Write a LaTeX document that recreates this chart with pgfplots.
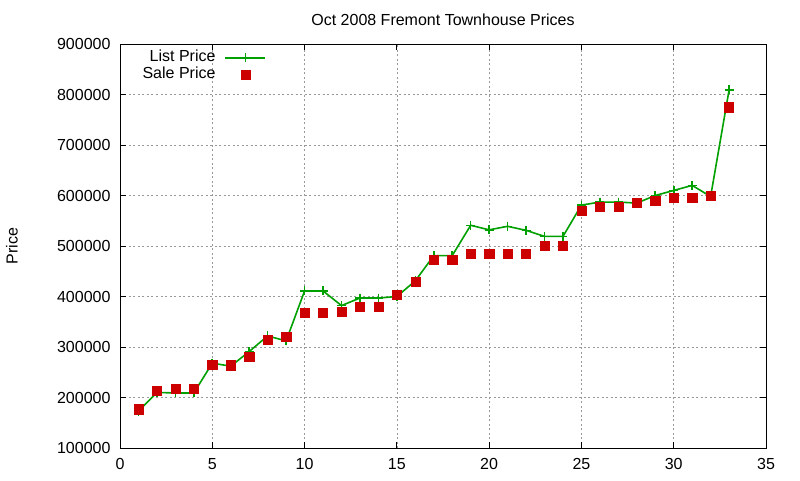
\documentclass[border=0pt]{standalone}
\usepackage{pgfplots}
\pgfplotsset{compat=1.18}
\usepackage{fontspec}
\setmainfont{Liberation Sans}
\definecolor{lgreen}{RGB}{0,160,0}
\definecolor{sred}{RGB}{205,0,0}
\begin{document}
\fontsize{16pt}{18pt}\selectfont
\begin{tikzpicture}[x=1pt,y=1pt]
\path[use as bounding box] (0,0) rectangle (800,480);
\begin{axis}[
  at={(120pt,32pt)}, anchor=south west,
  scale only axis, width=646pt, height=404pt,
  xmin=0, xmax=35, ymin=100000, ymax=900000,
  xtick={0,5,...,35}, ytick={100000,200000,...,900000},
  scaled y ticks=false,
  /pgf/number format/assume math mode=true,
  yticklabel={\pgfmathprintnumber[fixed,1000 sep={}]{\tick}},
  xticklabel style={yshift=-5pt},
  yticklabel style={xshift=-4pt},
  tick align=inside, major tick length=6pt,
  tick style={black, line width=0.8pt},
  axis line style={line width=0.8pt},
  grid=major,
  major grid style={gray!80, dash pattern=on 2pt off 2.5pt, line width=0.6pt},
  legend cell align=right,
  legend plot pos=right,
  legend style={draw=none, fill=none, at={(0.03,0.99)}, anchor=north west,
    font=\fontsize{16pt}{16pt}\selectfont, row sep=0pt, inner sep=1pt,
    nodes={text height=10pt, text depth=3pt},
    /tikz/every odd column/.append style={column sep=7pt}},
  clip=false,
]
\addplot[lgreen, line width=1.6pt, mark=+, mark size=4.5pt,
  legend image code/.code={\draw[mark repeat=2,mark phase=2] plot coordinates {(0pt,0pt) (20pt,0pt) (40pt,0pt)};}]
 coordinates {
(1,173000) (2,210000) (3,209000) (4,209000) (5,268000) (6,262000) (7,291000)
(8,322000) (9,312000) (10,411000) (11,411000) (12,382000) (13,397000) (14,397000)
(15,400000) (16,431000) (17,481000) (18,481000) (19,541000) (20,532000) (21,539000)
(22,531000) (23,519000) (24,519000) (25,581000) (26,587000) (27,587000) (28,585000)
(29,600000) (30,610000) (31,620000) (32,598000) (33,809000)
};
\addlegendentry{List Price}
\addplot[only marks, mark=square*, mark size=4.6pt, sred, mark options={draw=none, fill=sred},
  legend image code/.code={\draw plot coordinates {(20pt,0pt)};}]
 coordinates {
(1,177000) (2,214000) (3,217000) (4,217000) (5,265000) (6,264000) (7,281000)
(8,315000) (9,320000) (10,368000) (11,368000) (12,370000) (13,380000) (14,380000)
(15,403000) (16,429000) (17,473000) (18,473000) (19,485000) (20,485000) (21,485000)
(22,485000) (23,500000) (24,500000) (25,570000) (26,578000) (27,578000) (28,585000)
(29,589000) (30,595000) (31,595000) (32,600000) (33,775000)
};
\addlegendentry{Sale Price}
\node[anchor=center] at (rel axis cs:0.5,1) [yshift=24pt] {Oct 2008 Fremont Townhouse Prices};
\node[anchor=center, rotate=90] at ([xshift=-108pt]rel axis cs:0,0.5) {Price};
\end{axis}
\end{tikzpicture}
\end{document}
